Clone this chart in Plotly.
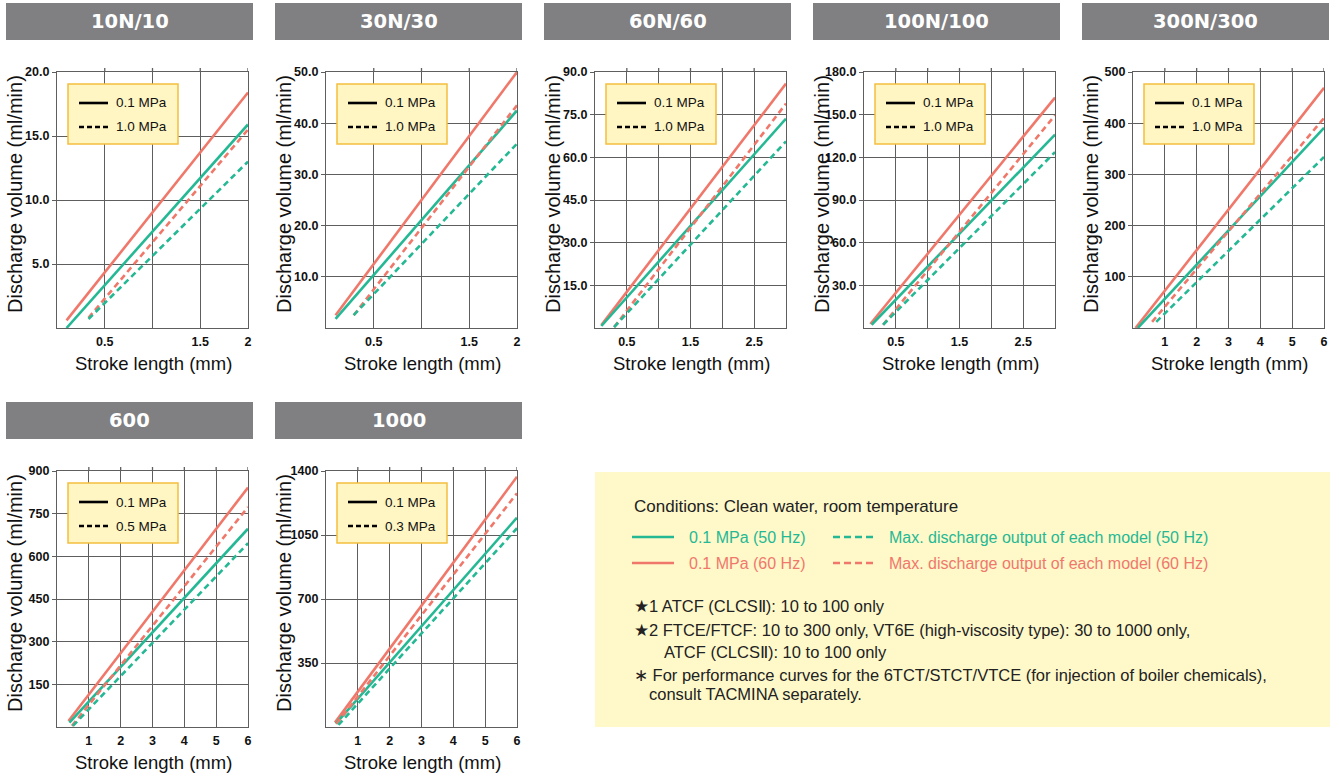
import plotly.graph_objects as go

# ---------------- data ----------------
TITLES = ["10N/10", "30N/30", "60N/60", "100N/100", "300N/300", "600", "1000"]
MAX_PRESSURE = ["1.0 MPa", "1.0 MPa", "1.0 MPa", "1.0 MPa", "1.0 MPa", "0.5 MPa", "0.3 MPa"]
X_MAX = [2, 2, 3, 3, 6, 6, 6]
Y_MAX = [20, 50, 90, 180, 500, 900, 1400]
X_TICKVALS = [
    [0.5, 1, 1.5, 2], [0.5, 1, 1.5, 2],
    [0.5, 1, 1.5, 2, 2.5], [0.5, 1, 1.5, 2, 2.5],
    [1, 2, 3, 4, 5, 6], [1, 2, 3, 4, 5, 6], [1, 2, 3, 4, 5, 6],
]
X_TICKTEXT = [
    ["0.5", "", "1.5", "2"], ["0.5", "", "1.5", "2"],
    ["0.5", "", "1.5", "", "2.5"], ["0.5", "", "1.5", "", "2.5"],
    ["1", "2", "3", "4", "5", "6"], ["1", "2", "3", "4", "5", "6"], ["1", "2", "3", "4", "5", "6"],
]
Y_TICKVALS = [
    [5, 10, 15, 20], [10, 20, 30, 40, 50], [15, 30, 45, 60, 75, 90],
    [30, 60, 90, 120, 150, 180], [100, 200, 300, 400, 500],
    [150, 300, 450, 600, 750, 900], [350, 700, 1050, 1400],
]
Y_TICKTEXT = [
    ["5.0", "10.0", "15.0", "20.0"], ["10.0", "20.0", "30.0", "40.0", "50.0"],
    ["15.0", "30.0", "45.0", "60.0", "75.0", "90.0"],
    ["30.0", "60.0", "90.0", "120.0", "150.0", "180.0"],
    ["100", "200", "300", "400", "500"],
    ["150", "300", "450", "600", "750", "900"], ["350", "700", "1050", "1400"],
]

# stroke length (mm) [start, end] and discharge (ml/min) [start, end] per panel
STROKE_60HZ_LOW = [[0.1, 2], [0.1, 2], [0.1, 3], [0.1, 3], [0.08, 6], [0.36, 6], [0.28, 6]]
FLOW_60HZ_LOW = [[0.6, 18.4], [2.5, 50.0], [1.0, 85.9], [2.8, 162], [0, 469], [21, 842], [24, 1369]]
STROKE_50HZ_LOW = [[0.1, 2], [0.1, 2], [0.1, 3], [0.12, 3], [0.15, 6], [0.39, 6], [0.31, 6]]
FLOW_50HZ_LOW = [[0, 15.9], [1.8, 42.5], [0.7, 73.6], [2.3, 136], [0, 391], [15, 697], [18, 1145]]
STROKE_60HZ_MAX = [[0.33, 2], [0.29, 2], [0.3, 3], [0.3, 3], [0.6, 6], [0.47, 6], [0.33, 6]]
FLOW_60HZ_MAX = [[0.8, 15.5], [2.5, 43.5], [0.3, 78.9], [2.3, 149.5], [12, 410], [4, 773], [18, 1278]]
STROKE_50HZ_MAX = [[0.33, 2], [0.29, 2], [0.3, 3], [0.3, 3], [0.73, 6], [0.5, 6], [0.39, 6]]
FLOW_50HZ_MAX = [[0.7, 13.0], [2.5, 36.0], [0.3, 65.6], [2.3, 123.7], [12, 334], [4, 646], [11, 1087]]

NOTES = [
    "★1 ATCF (CLCSⅡ): 10 to 100 only",
    "★2 FTCE/FTCF: 10 to 300 only, VT6E (high-viscosity type): 30 to 1000 only,",
    "ATCF (CLCSⅡ): 10 to 100 only",
    "∗ For performance curves for the 6TCT/STCT/VTCE (for injection of boiler chemicals),",
    "consult TACMINA separately.",
]

# ---------------- styling / layout ----------------
W, H = 1339, 776
GREEN = "#25B894"
RED = "#F0786A"
GRID = "#5e5e5e"
FONT = "Liberation Sans, Arial, sans-serif"
PLOT_LEFT = [57, 326, 595, 864, 1133, 57, 326]
PLOT_TOP = [72, 72, 72, 72, 72, 471, 471]
PW, PH = 191, 256


def fx(px):
    return px / W


def fy(py):
    return 1 - py / H


fig = go.Figure()
shapes = []
annotations = []

for i in range(7):
    n = i + 1
    xa = "x" if n == 1 else f"x{n}"
    ya = "y" if n == 1 else f"y{n}"
    L, T = PLOT_LEFT[i], PLOT_TOP[i]

    series = [
        (STROKE_60HZ_LOW[i], FLOW_60HZ_LOW[i], RED, "solid"),
        (STROKE_50HZ_LOW[i], FLOW_50HZ_LOW[i], GREEN, "solid"),
        (STROKE_60HZ_MAX[i], FLOW_60HZ_MAX[i], RED, "6px,4px"),
        (STROKE_50HZ_MAX[i], FLOW_50HZ_MAX[i], GREEN, "6px,4px"),
    ]
    for sx, sy, col, dash in series:
        fig.add_trace(go.Scatter(
            x=sx, y=sy, mode="lines", xaxis=xa, yaxis=ya, showlegend=False,
            line=dict(color=col, width=2.6, dash=dash), hoverinfo="skip",
        ))

    common = dict(showline=True, linecolor=GRID, linewidth=1.3, mirror=True,
                  showgrid=True, gridcolor=GRID, gridwidth=1.3, zeroline=False,
                  tickfont=dict(family=FONT, size=12.5, color="#111", weight=700),
                  fixedrange=True, automargin=False)
    fig.layout[f"xaxis{n if n > 1 else ''}"] = dict(
        domain=[fx(L), fx(L + PW)], range=[0, X_MAX[i]], anchor=ya,
        tickvals=X_TICKVALS[i], ticktext=X_TICKTEXT[i], ticks="", ticklabelstandoff=2,
        **common)
    fig.layout[f"yaxis{n if n > 1 else ''}"] = dict(
        domain=[fy(T + PH), fy(T)], range=[0, Y_MAX[i]], anchor=xa,
        tickvals=Y_TICKVALS[i], ticktext=Y_TICKTEXT[i], ticks="outside",
        ticklen=4, tickcolor=GRID, tickwidth=1.3, ticklabelstandoff=0,
        **common)
    # small ticks above the top frame at each vertical grid line
    for v in X_TICKVALS[i]:
        shapes.append(dict(type="line", xref=xa, yref=f"{ya} domain",
                           x0=v, x1=v, y0=1, y1=1 + 4 / PH,
                           line=dict(color=GRID, width=1.3)))

    # title bar
    bar_top = 3 if T < 200 else 402
    shapes.append(dict(type="rect", xref="paper", yref="paper",
                       x0=fx(L - 51), x1=fx(L + 196), y0=fy(bar_top + 37), y1=fy(bar_top),
                       fillcolor="#808083", line=dict(width=0), layer="below"))
    annotations.append(dict(xref="paper", yref="paper", x=fx(L + 72.5), y=fy(bar_top + 18.5),
                            text=TITLES[i], showarrow=False, xanchor="center", yanchor="middle",
                            font=dict(family="DejaVu Sans, sans-serif", size=19.5, color="white", weight=700)))
    # axis titles
    annotations.append(dict(xref="paper", yref="paper", x=fx(L - 42), y=fy(T + 122),
                            text="Discharge volume (ml/min)", showarrow=False, textangle=-90,
                            xanchor="center", yanchor="middle",
                            font=dict(family=FONT, size=20, color="#111")))
    annotations.append(dict(xref="paper", yref="paper", x=fx(L + 96), y=fy(T + 291),
                            text="Stroke length (mm)", showarrow=False,
                            xanchor="center", yanchor="middle",
                            font=dict(family=FONT, size=18.5, color="#111")))
    # in-plot legend box
    shapes.append(dict(type="rect", xref="paper", yref="paper",
                       x0=fx(L + 11), x1=fx(L + 121), y0=fy(T + 72), y1=fy(T + 12),
                       fillcolor="#FFF6C4", line=dict(color="#F5BE3E", width=1.5), layer="above"))
    for k, (lab, dash) in enumerate([("0.1 MPa", "solid"), (MAX_PRESSURE[i], "5px,3px")]):
        yy = T + 31 + 24 * k
        shapes.append(dict(type="line", xref="paper", yref="paper",
                           x0=fx(L + 22), x1=fx(L + 51), y0=fy(yy), y1=fy(yy),
                           line=dict(color="black", width=2.6, dash=dash), layer="above"))
        annotations.append(dict(xref="paper", yref="paper", x=fx(L + 57), y=fy(yy),
                                text=lab, showarrow=False, xanchor="left", yanchor="middle",
                                font=dict(family=FONT, size=13.5, color="#111")))

# ---------------- info box ----------------
shapes.append(dict(type="rect", xref="paper", yref="paper",
                   x0=fx(595), x1=fx(1330), y0=fy(727), y1=fy(472),
                   fillcolor="#FFF9CA", line=dict(width=0), layer="below"))
annotations.append(dict(xref="paper", yref="paper", x=fx(632), y=fy(506),
                        text="Conditions: Clean water, room temperature", showarrow=False,
                        xanchor="left", yanchor="middle",
                        font=dict(family=FONT, size=17, color="#222")))
for k, (col, hz) in enumerate([(GREEN, "50 Hz"), (RED, "60 Hz")]):
    yy = 537 + 26 * k
    shapes.append(dict(type="line", xref="paper", yref="paper",
                       x0=fx(632), x1=fx(674), y0=fy(yy), y1=fy(yy),
                       line=dict(color=col, width=2.6)))
    annotations.append(dict(xref="paper", yref="paper", x=fx(687), y=fy(yy),
                            text=f"0.1 MPa ({hz})", showarrow=False, xanchor="left", yanchor="middle",
                            font=dict(family=FONT, size=16, color=col)))
    shapes.append(dict(type="line", xref="paper", yref="paper",
                       x0=fx(833), x1=fx(876), y0=fy(yy), y1=fy(yy),
                       line=dict(color=col, width=2.6, dash="7px,4px")))
    annotations.append(dict(xref="paper", yref="paper", x=fx(887), y=fy(yy),
                            text=f"Max. discharge output of each model ({hz})", showarrow=False,
                            xanchor="left", yanchor="middle",
                            font=dict(family=FONT, size=16, color=col)))
note_pos = [(632, 606), (632, 630), (662, 652), (632, 675), (647, 694)]
for txt, (px, py) in zip(NOTES, note_pos):
    annotations.append(dict(xref="paper", yref="paper", x=fx(px), y=fy(py),
                            text=txt, showarrow=False, xanchor="left", yanchor="middle",
                            font=dict(family=FONT, size=16.5, color="#222")))

fig.update_layout(
    width=W, height=H, margin=dict(l=0, r=0, t=0, b=0, pad=0, autoexpand=False),
    paper_bgcolor="white", plot_bgcolor="white",
    shapes=shapes, annotations=annotations, showlegend=False,
)
fig.write_html(
    "out.html",
    config={"displayModeBar": False},
    post_script=(
        "document.documentElement.style.margin='0';"
        "document.body.style.margin='0';document.body.style.padding='0';"
        "document.body.style.overflow='hidden';"
        "var d=document.getElementById('{plot_id}');"
        "d.style.position='absolute';d.style.left='0px';d.style.top='0px';"
    ),
)
